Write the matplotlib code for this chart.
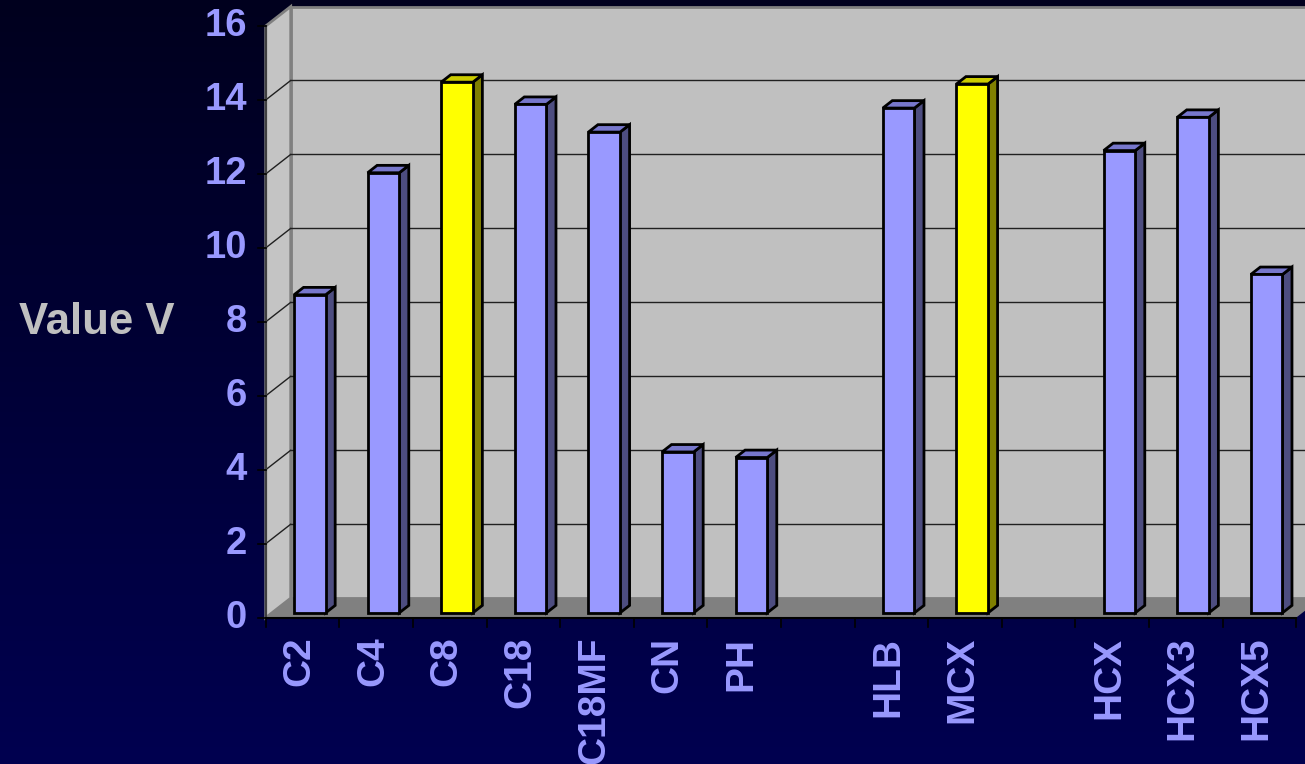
import numpy as np
import matplotlib
matplotlib.use("Agg")
import matplotlib.pyplot as plt
from matplotlib.patches import Polygon
from matplotlib.colors import LinearSegmentedColormap

# ---- data -------------------------------------------------------------
categories = ["C2", "C4", "C8", "C18", "C18MF", "CN", "PH", "",
              "HLB", "MCX", "", "HCX", "HCX3", "HCX5"]
values = [8.6, 11.9, 14.35, 13.75, 13.0, 4.35, 4.2, None,
          13.65, 14.3, None, 12.5, 13.4, 9.15]
highlight = ["C8", "MCX"]
y_ticks = [0, 2, 4, 6, 8, 10, 12, 14, 16]
y_label = "Value V"

# ---- styling ----------------------------------------------------------
plt.rcParams["font.family"] = ["Liberation Sans", "DejaVu Sans"]
LABEL_COLOR = "#9999ff"
BAR_FRONT, BAR_TOP, BAR_SIDE = "#9999ff", "#7777cc", "#4d4d80"
HI_FRONT, HI_TOP, HI_SIDE = "#ffff00", "#cccc00", "#808000"

W, H = 1305, 764
fig = plt.figure(figsize=(W / 100, H / 100), dpi=100)
ax = fig.add_axes([0, 0, 1, 1])

# pixel geometry of the plot frame -> data units
slot_px = 73.6          # width of one category slot
unit_px = 36.98         # pixels per value unit
x0_px = 265.7           # front-left corner of the floor
y0_px = 617.7           # front floor edge (value 0)
n = len(categories)

xmin = -x0_px / slot_px - 0.5
xmax = (W - x0_px) / slot_px - 0.5
ymin = (y0_px - H) / unit_px
ymax = y0_px / unit_px
ax.set_xlim(xmin, xmax)
ax.set_ylim(ymin, ymax)
ax.axis("off")

# background gradient
cmap = LinearSegmentedColormap.from_list("bg", ["#00001e", "#000050"])
grad = np.linspace(0, 1, 256).reshape(-1, 1)
ax.imshow(grad, extent=[xmin, xmax, ymin, ymax], origin="upper",
          cmap=cmap, aspect="auto", zorder=0)

# depth projection (full depth offset in data units)
DX = 25 / slot_px
DY = 19.5 / unit_px


def P(x, v, d):
    return (x + d * DX, v + d * DY)


left, right = -0.5, n - 0.5
top = y_ticks[-1]

# walls and floor
back_wall = Polygon([P(left, 0, 1), P(right, 0, 1), P(right, top, 1), P(left, top, 1)],
                    closed=True, facecolor="#c0c0c0", edgecolor="#808080", lw=2, zorder=1)
side_wall = Polygon([P(left, 0, 0), P(left, 0, 1), P(left, top, 1), P(left, top, 0)],
                    closed=True, facecolor="#c4c4c4", edgecolor="#808080", lw=2, zorder=1)
floor = Polygon([P(left, 0, 0), P(right, 0, 0), P(right, 0, 1), P(left, 0, 1)],
                closed=True, facecolor="#808080", edgecolor="none", zorder=1.5)
for p in (back_wall, side_wall, floor):
    ax.add_patch(p)

# gridlines on back and side walls
for t in y_ticks[1:-1]:
    xa, ya = P(left, t, 1)
    xb, yb = P(right, t, 1)
    ax.plot([xa, xb], [ya, yb], color="#202020", lw=1, zorder=2)
    xc, yc = P(left, t, 0)
    ax.plot([xc, xa], [yc, ya], color="#202020", lw=1, zorder=2)

# axis lines and ticks
ax.plot([left, left], [0, top], color="#404040", lw=1.5, zorder=3)
ax.plot([left, right], [0, 0], color="black", lw=1.5, zorder=3)
tick_len_x = 8 / slot_px
tick_len_y = 9.5 / unit_px
for t in y_ticks:
    ax.plot([left - tick_len_x, left], [t, t], color="black", lw=1.2, zorder=3)
    ax.text(left - 18.5 / slot_px, t, str(t), ha="right", va="center",
            fontsize=27.5, fontweight="bold", color=LABEL_COLOR, zorder=4)
for k in range(n + 1):
    xk = left + k
    ax.plot([xk, xk], [0, -tick_len_y], color="black", lw=1.2, zorder=3)

# category labels
for i, name in enumerate(categories):
    if name:
        ax.text(i - 0.04, -19 / unit_px, name, rotation=90, ha="center", va="top",
                fontsize=28, fontweight="bold", color=LABEL_COLOR, zorder=4)

# y axis title
ax.text((96.5 - x0_px) / slot_px - 0.5, (y0_px - 323) / unit_px, y_label,
        ha="center", va="center", fontsize=31.5, fontweight="bold",
        color="#c0c0c0", zorder=4)

# 3-D bars
bar_w = 0.43
d0, d1 = 0.25, 0.63
for i, (name, v) in enumerate(zip(categories, values)):
    if v is None:
        continue
    if name in highlight:
        fc, tc, sc = HI_FRONT, HI_TOP, HI_SIDE
    else:
        fc, tc, sc = BAR_FRONT, BAR_TOP, BAR_SIDE
    xl, xr = i - bar_w / 2 + 0.015, i + bar_w / 2 + 0.015
    front = [P(xl, 0, d0), P(xr, 0, d0), P(xr, v, d0), P(xl, v, d0)]
    side = [P(xr, 0, d0), P(xr, 0, d1), P(xr, v, d1), P(xr, v, d0)]
    topf = [P(xl, v, d0), P(xr, v, d0), P(xr, v, d1), P(xl, v, d1)]
    for pts, c in ((side, sc), (topf, tc), (front, fc)):
        ax.add_patch(Polygon(pts, closed=True, facecolor=c, edgecolor="black",
                             lw=2, joinstyle="miter", zorder=5 + i * 0.01))

fig.savefig("out.png", dpi=100)
